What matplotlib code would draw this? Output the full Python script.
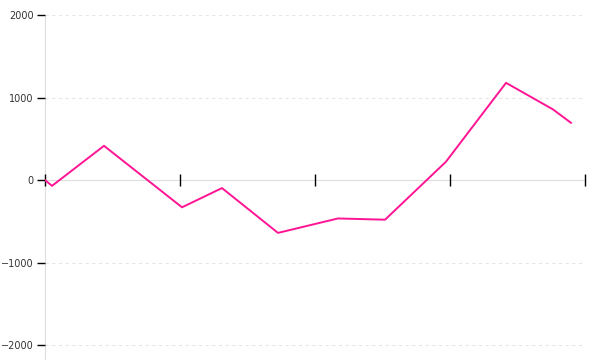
import matplotlib
matplotlib.use("Agg")
import matplotlib.pyplot as plt

# data (x in tick units, y values)
x_vals = [0.0, 0.052, 0.437, 1.015, 1.311, 1.726, 2.170, 2.519, 2.970, 3.415, 3.763, 3.896]
y_vals = [0, -70, 415, -330, -97, -640, -465, -480, 222, 1178, 856, 694]
y_ticks = [-2000, -1000, 0, 1000, 2000]
x_ticks = [0, 1, 2, 3, 4]

fig = plt.figure(figsize=(6, 3.6), dpi=100)
ax = fig.add_axes([0.075, 0.0, 0.9, 1 - 15 / 360])

ax.plot(x_vals, y_vals, color="#ff1493", lw=1.4, zorder=3)

ax.set_xlim(0, 4)
ax.set_ylim(-2180, 2000)
ax.set_yticks(y_ticks)
ax.set_yticklabels([str(v).replace("-", "\u2212") for v in y_ticks], fontsize=7, color="#333333")
ax.set_xticks(x_ticks)
ax.set_xticklabels([])

for v in y_ticks:
    if v != 0:
        ax.axhline(v, color="#e6e6e6", lw=0.8, ls=(0, (3, 3)), zorder=1)

for s in ["top", "right"]:
    ax.spines[s].set_visible(False)
ax.spines["bottom"].set_position(("data", 0))
ax.spines["bottom"].set_color("#dddddd")
ax.spines["left"].set_color("#dddddd")
ax.spines["left"].set_zorder(0.5)
ax.spines["bottom"].set_zorder(0.5)

ax.tick_params(axis="y", length=6, width=1, color="black", pad=2)
ax.tick_params(axis="x", direction="inout", length=9, width=1, color="black")
ax.set_axisbelow(False)

fig.savefig("out.png", dpi=100)
